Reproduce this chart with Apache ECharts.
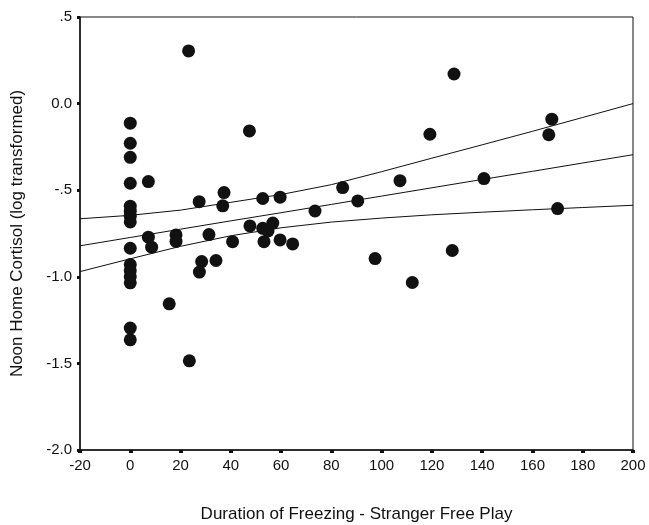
<!DOCTYPE html>
<html>
<head>
<meta charset="utf-8">
<script src="https://cdn.jsdelivr.net/npm/echarts@6/dist/echarts.min.js"></script>
<style>
  html, body { margin: 0; padding: 0; background: #fff; }
  #chart { width: 649px; height: 525px; }
</style>
</head>
<body>
<div id="chart"></div>
<script>
// scatter points
const freezeX = [
  0, 0, 0, 0, 0, 0, 0, 0, 0, 0, 0, 0, 0, 0, 0,
  7.2, 7.2, 8.5, 15.5, 18.2, 18.2, 23.2, 23.5, 27.4, 28.4, 27.5, 31.3, 34.1,
  37.3, 36.8, 40.7, 47.4, 47.6, 52.7, 59.6, 52.7, 54.8, 56.7, 53.2, 59.6,
  64.6, 73.5, 84.5, 90.5, 97.4, 107.3, 112.2, 119.2, 128.1, 128.8, 140.7,
  166.5, 167.7, 170
];
const cortisolY = [
  -0.113, -0.229, -0.31, -0.46, -0.592, -0.621, -0.65, -0.683, -0.835, -0.929, -0.964, -0.999, -1.035, -1.296, -1.364,
  -0.45, -0.771, -0.829, -1.156, -0.758, -0.796, 0.304, -1.485, -0.566, -0.912, -0.973, -0.756, -0.906,
  -0.514, -0.59, -0.797, -0.158, -0.706, -0.548, -0.54, -0.72, -0.735, -0.69, -0.797, -0.787,
  -0.81, -0.62, -0.485, -0.562, -0.895, -0.445, -1.033, -0.177, -0.848, 0.171, -0.433,
  -0.18, -0.09, -0.606
];

// regression line and confidence bands, read at each x tick
const lineX  = [-20, 0, 20, 40, 60, 80, 100, 120, 140, 160, 180, 200];
const fitY   = [-0.821, -0.773, -0.725, -0.677, -0.630, -0.582, -0.534, -0.486, -0.438, -0.391, -0.343, -0.295];
const upperY = [-0.665, -0.645, -0.615, -0.570, -0.525, -0.468, -0.393, -0.315, -0.238, -0.160, -0.080, 0.0];
const lowerY = [-0.970, -0.896, -0.824, -0.763, -0.717, -0.684, -0.661, -0.642, -0.627, -0.613, -0.600, -0.587];

const yTickValues = [-2, -1.5, -1, -0.5, 0, 0.5];
const yTickLabels = ['-2.0', '-1.5', '-1.0', '-.5', '0.0', '.5'];

const ink = '#111';
const font = '"Liberation Sans", Arial, sans-serif';

const pts = freezeX.map((x, i) => [x, cortisolY[i]]);
const toLine = (ys) => lineX.map((x, i) => [x, ys[i]]);

const lineSeries = (name, ys) => ({
  name: name,
  type: 'line',
  data: toLine(ys),
  symbol: 'none',
  smooth: false,
  z: 2,
  lineStyle: { color: ink, width: 1 },
  silent: true
});

const myChart = echarts.init(document.getElementById('chart'));

const option = {
  backgroundColor: '#fff',
  animation: false,
  textStyle: { fontFamily: font },
  grid: {
    left: 80, right: 16, top: 17, bottom: 75,
    show: true,
    borderColor: ink,
    borderWidth: 1,
    containLabel: false,
    outerBoundsMode: 'none'
  },
  xAxis: {
    type: 'value',
    min: -20,
    max: 200,
    interval: 20,
    name: 'Duration of Freezing - Stranger Free Play',
    nameLocation: 'middle',
    nameGap: 56,
    nameTextStyle: { color: ink, fontSize: 17, fontFamily: font },
    splitLine: { show: false },
    axisLine: { onZero: false, lineStyle: { color: ink, width: 1.5 } },
    axisTick: { length: 3, lineStyle: { color: ink, width: 4 } },
    axisLabel: { color: ink, fontSize: 15, margin: 8, fontFamily: font }
  },
  yAxis: {
    type: 'value',
    min: -2,
    max: 0.5,
    interval: 0.5,
    name: 'Noon Home Cortisol (log transformed)',
    nameLocation: 'middle',
    nameGap: 54,
    nameTextStyle: { color: ink, fontSize: 17, fontFamily: font },
    splitLine: { show: false },
    axisLine: { onZero: false, lineStyle: { color: ink, width: 1.5 } },
    axisTick: { length: 3, lineStyle: { color: ink, width: 3 } },
    axisLabel: {
      color: ink,
      fontSize: 15,
      margin: 8,
      fontFamily: font,
      formatter: function (v) {
        const idx = yTickValues.indexOf(v);
        return idx >= 0 ? yTickLabels[idx] : '';
      }
    }
  },
  series: [
    lineSeries('upper', upperY),
    lineSeries('fit', fitY),
    lineSeries('lower', lowerY),
    {
      name: 'cortisol',
      type: 'scatter',
      data: pts,
      symbol: 'circle',
      symbolSize: 13,
      z: 3,
      itemStyle: { color: ink, opacity: 1 }
    }
  ]
};

myChart.setOption(option);
</script>
</body>
</html>
